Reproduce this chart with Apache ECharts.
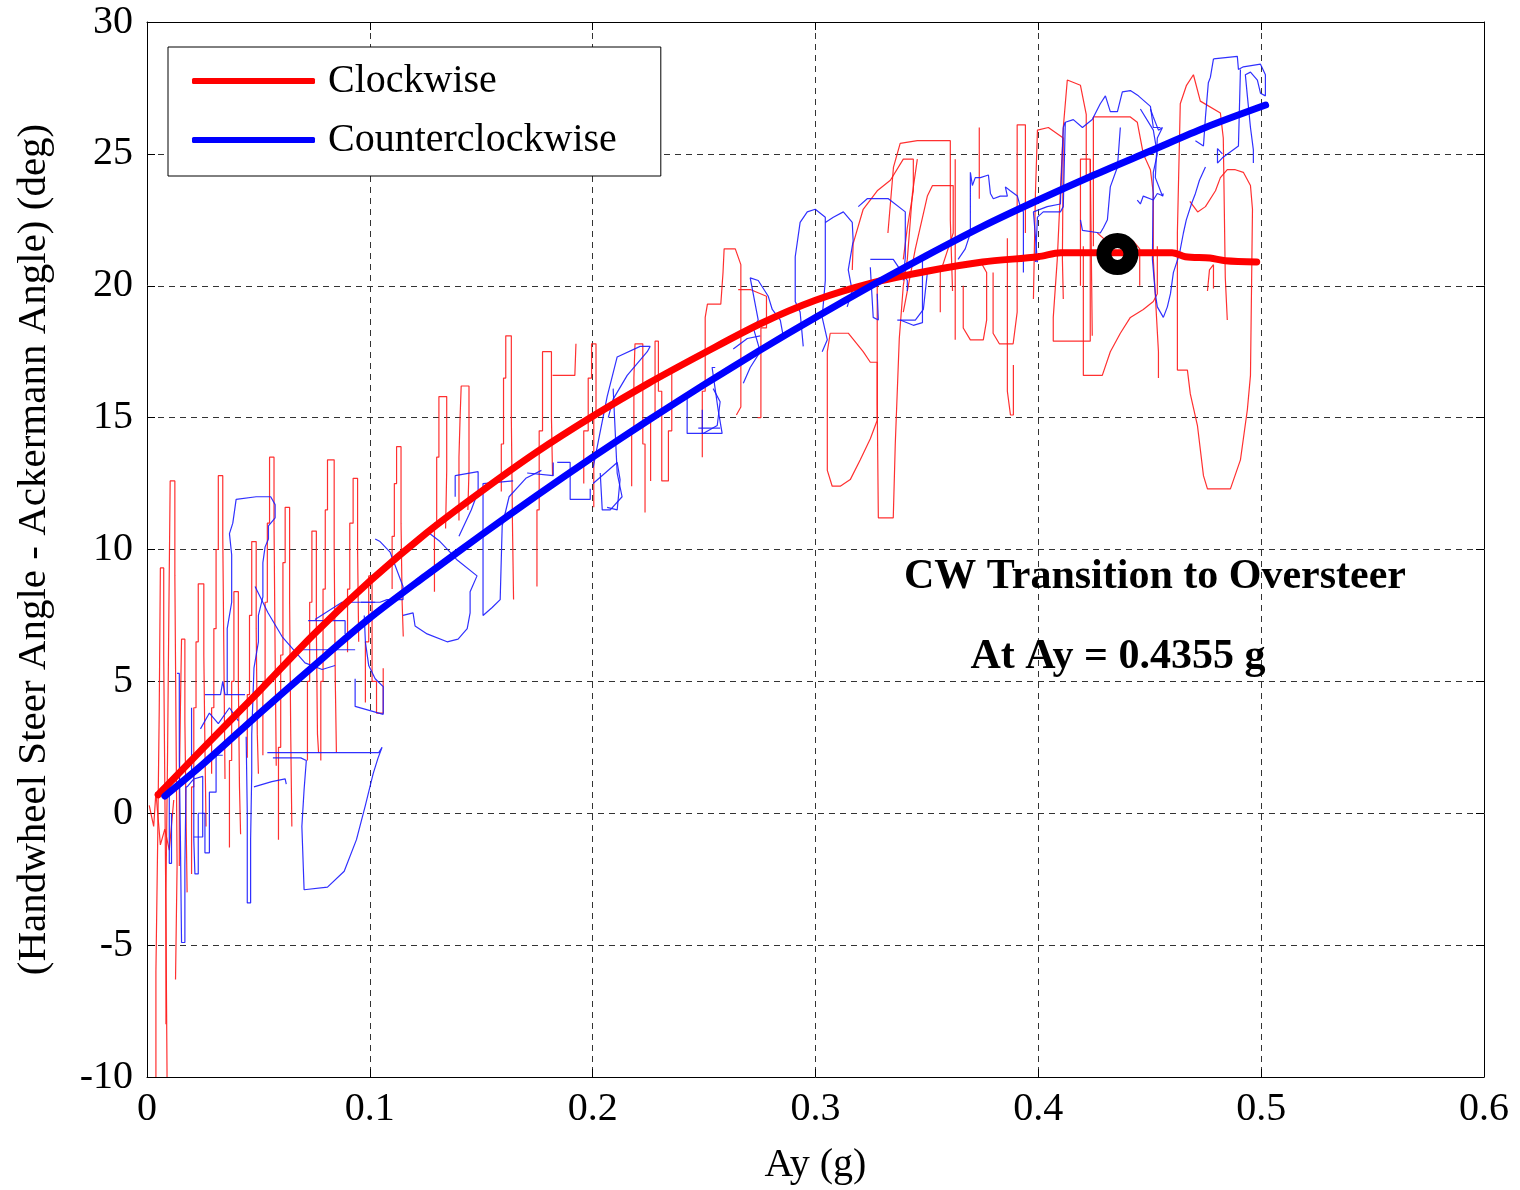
<!DOCTYPE html>
<html>
<head>
<meta charset="utf-8">
<script src="https://cdn.jsdelivr.net/npm/echarts@6/dist/echarts.min.js"></script>
<style>
html,body{margin:0;padding:0;background:#fff;}
#chart{width:1520px;height:1190px;}
</style>
</head>
<body>
<div id="chart"></div>
<script>
// ---------- DATA ----------
const xTicks = [0, 0.1, 0.2, 0.3, 0.4, 0.5, 0.6];
const yTicks = [-10, -5, 0, 5, 10, 15, 20, 25, 30];
const seriesNames = ['Clockwise', 'Counterclockwise'];

// fitted curves [Ay, angle]
const cwFit = [[0.005,0.7],[0.025,2.45],[0.05,4.6],[0.075,6.8],[0.1,8.8],[0.125,10.6],[0.15,12.2],[0.175,13.7],[0.2,15.05],[0.225,16.3],[0.25,17.45],[0.275,18.55],[0.3,19.45],[0.325,20.1],[0.35,20.55],[0.375,20.9],[0.4,21.1],[0.41,21.25],[0.46,21.25],[0.466,21.1],[0.477,21.05],[0.484,20.95],[0.498,20.9]];
const ccwFit = [[0.008,0.65],[0.025,1.85],[0.05,3.75],[0.075,5.6],[0.1,7.4],[0.125,9.0],[0.15,10.55],[0.175,12.05],[0.2,13.5],[0.225,14.9],[0.25,16.25],[0.275,17.55],[0.3,18.8],[0.325,20.0],[0.35,21.15],[0.375,22.25],[0.4,23.25],[0.425,24.2],[0.45,25.1],[0.475,26.0],[0.502,26.85]];

// transition point
const transition = [[0.4355, 21.2]];
const noteLines = ['CW Transition to Oversteer', 'At Ay = 0.4355 g'];

const cwRaw = [
 [[0.004,-10],[0.004,-6],[0.0048,-6],[0.0048,-1],[0.0055,-1],[0.0055,4],[0.006,4],[0.006,9.3],[0.0075,9.3],[0.0075,6],[0.008,6],[0.008,1],[0.0085,1],[0.0085,-4],[0.009,-4],[0.009,-10]],
 [[0.0085,-8],[0.0085,-3],[0.0092,-3],[0.0092,2],[0.0098,2],[0.0098,7.5],[0.0104,7.5],[0.0104,12.6],[0.0125,12.6],[0.0125,9],[0.013,9],[0.013,3.5],[0.0135,3.5],[0.0135,-2],[0.0128,-2],[0.0128,-6.3]],
 [[0.001,0.3],[0.003,-0.5],[0.004,0.8],[0.006,-1.2],[0.008,-0.6],[0.010,-1.4],[0.012,0.5]],
 [[0.0145,-2],[0.0145,1],[0.015,1],[0.015,4],[0.0155,4],[0.0155,6.6],[0.017,6.6],[0.017,3.5],[0.0175,3.5],[0.0175,0],[0.018,0],[0.018,-3]],
 [[0.020,-2.3],[0.020,1],[0.021,1],[0.021,4],[0.022,4],[0.022,6.5],[0.023,6.5],[0.023,8.7],[0.0255,8.7],[0.0255,6],[0.026,6],[0.026,2.5],[0.0265,2.5],[0.0265,-0.5]],
 [[0.029,1.5],[0.029,4],[0.030,4],[0.030,7],[0.031,7],[0.031,10],[0.032,10],[0.032,12.8],[0.034,12.8],[0.034,10.5],[0.0345,10.5],[0.0345,6],[0.035,6],[0.035,1.3]],
 [[0.037,-1.3],[0.037,2],[0.038,2],[0.038,5],[0.039,5],[0.039,8.4],[0.041,8.4],[0.041,5],[0.0415,5],[0.0415,1],[0.042,1],[0.042,-0.8]],
 [[0.045,2.1],[0.045,4.5],[0.046,4.5],[0.046,7.5],[0.047,7.5],[0.047,10.3],[0.049,10.3],[0.049,7],[0.0495,7],[0.0495,3],[0.050,3],[0.050,1.5]],
 [[0.052,2.2],[0.052,5],[0.053,5],[0.053,8],[0.054,8],[0.054,11],[0.055,11],[0.055,13.5],[0.057,13.5],[0.057,11],[0.0575,11],[0.0575,6],[0.058,6],[0.058,1.8]],
 [[0.059,-1],[0.059,2.5],[0.060,2.5],[0.060,6],[0.061,6],[0.061,9.5],[0.062,9.5],[0.062,11.6],[0.064,11.6],[0.064,8],[0.0645,8],[0.0645,3],[0.065,3],[0.065,-0.5]],
 [[0.072,2.0],[0.072,5],[0.073,5],[0.073,8],[0.074,8],[0.074,10.7],[0.076,10.7],[0.076,7],[0.0765,7],[0.0765,3],[0.077,3],[0.077,2.3]],
 [[0.078,2.0],[0.078,5],[0.079,5],[0.079,8.5],[0.080,8.5],[0.080,11.5],[0.081,11.5],[0.081,13.4],[0.084,13.4],[0.084,10],[0.0845,10],[0.0845,5],[0.085,5],[0.085,2.3]],
 [[0.090,6.1],[0.090,8.5],[0.091,8.5],[0.091,11],[0.0925,11],[0.0925,12.7],[0.0945,12.7],[0.0945,10],[0.095,10],[0.095,6.5]],
 [[0.098,4.2],[0.098,6.5],[0.0995,6.5],[0.0995,9],[0.101,9],[0.101,5],[0.103,5],[0.103,3.8],[0.106,3.8],[0.106,5.5]],
 [[0.110,8.5],[0.110,10.5],[0.111,10.5],[0.111,12.5],[0.112,12.5],[0.112,13.9],[0.114,13.9],[0.114,11],[0.1145,11],[0.1145,8],[0.115,8],[0.115,6.7]],
 [[0.129,8.4],[0.129,11],[0.130,11],[0.130,13.5],[0.131,13.5],[0.131,15.8],[0.1345,15.8],[0.1345,13],[0.134,13],[0.134,10.8]],
 [[0.140,11.1],[0.140,13.5],[0.1405,13.5],[0.1405,15],[0.141,15],[0.141,16.2],[0.1445,16.2],[0.1445,13],[0.144,13],[0.144,11.5]],
 [[0.159,12.2],[0.159,14],[0.160,14],[0.160,16.5],[0.161,16.5],[0.161,18.1],[0.1635,18.1],[0.1635,15],[0.164,15],[0.164,11],[0.1645,11],[0.1645,8.1]],
 [[0.175,8.6],[0.175,11.5],[0.176,11.5],[0.176,14.5],[0.1775,14.5],[0.1775,17.5],[0.1815,17.5],[0.1815,15],[0.182,15],[0.182,12.8]],
 [[0.182,16.6],[0.192,16.6],[0.1925,17.8]],
 [[0.196,12.5],[0.196,14.5],[0.198,14.5],[0.198,16.5],[0.1995,16.5],[0.1995,17.8],[0.2015,17.8],[0.2015,15],[0.2005,15],[0.2005,11.6]],
 [[0.2175,12.4],[0.2175,14.5],[0.2185,14.5],[0.2185,16.5],[0.219,16.5],[0.219,17.8],[0.2225,17.8],[0.2225,14],[0.2235,14],[0.2235,11.4]],
 [[0.226,12.6],[0.226,15],[0.228,15],[0.228,17.9],[0.2295,17.9],[0.2295,16],[0.231,16],[0.231,12.6],[0.234,12.6],[0.234,14.5],[0.2355,14.5],[0.2355,16.9]],
 [[0.2492,13.5],[0.2492,16],[0.2505,16],[0.2505,18.8],[0.2515,19.3],[0.2575,19.3],[0.2585,20.5],[0.259,21.4],[0.264,21.4],[0.2665,20.8],[0.2665,15.4],[0.2645,15.1]],
 [[0.2653,19.85],[0.271,19.85],[0.278,19.6],[0.278,18.4],[0.2755,18.4],[0.2755,15.0],[0.274,15.0]],
 [[0.3066,18.2],[0.3053,17.5],[0.3053,13.0],[0.3075,12.4],[0.3111,12.4],[0.3156,12.65],[0.3201,13.4],[0.3246,14.2],[0.3277,14.9],[0.3277,17.1],[0.3246,17.1],[0.3214,17.5],[0.3147,18.2],[0.3066,18.2]],
 [[0.3277,20.0],[0.3277,15.5],[0.3282,11.2],[0.3349,11.2],[0.3358,14],[0.3376,18],[0.3394,20],[0.3412,21.0],[0.3435,23.5],[0.3457,24.8]],
 [[0.3394,19.0],[0.3448,21.4],[0.3502,23.4],[0.3525,23.8],[0.3618,23.8],[0.3618,22],[0.356,20.5],[0.356,19.0]],
 [[0.3165,20.6],[0.3169,21.6],[0.3214,22.9],[0.3277,23.6],[0.3336,24.0],[0.3394,24.8],[0.3439,24.8],[0.3439,23.6],[0.3412,22.2],[0.3394,21.0]],
 [[0.3325,22],[0.335,24.5],[0.338,25.4],[0.3457,25.5],[0.3605,25.5],[0.3605,22.5],[0.3615,19.8]],
 [[0.3627,24.8],[0.3627,17.95]],
 [[0.3663,20.0],[0.3663,18.4],[0.3695,17.95],[0.3753,17.95],[0.3768,18.7],[0.3768,20.5],[0.3735,21.0]],
 [[0.3735,26.0],[0.3735,23.3]],
 [[0.3797,20.5],[0.3797,18.2],[0.3825,17.8],[0.3887,17.8],[0.3905,19],[0.3905,21.5],[0.3905,26.1],[0.3942,26.1],[0.3942,22]],
 [[0.3861,21.8],[0.3861,16],[0.3875,15.1],[0.3888,15.1],[0.3888,17.0]],
 [[0.3978,19.5],[0.3987,23.5],[0.3996,25.9],[0.4045,26.0],[0.4112,25.6],[0.4108,21.0],[0.4112,19.5]],
 [[0.4233,24.8],[0.4233,17.9],[0.4067,17.9],[0.4067,18.8],[0.4085,21.0],[0.4112,26.0],[0.413,27.8],[0.4189,27.6],[0.4215,26.5],[0.4215,24]],
 [[0.4189,20.0],[0.4189,24.8],[0.4233,24.8],[0.4242,18.1]],
 [[0.4202,21.5],[0.4202,16.6],[0.4287,16.6],[0.4323,17.5],[0.4368,18.2],[0.4413,18.8],[0.4471,19.1],[0.4516,19.4],[0.4534,19.7],[0.4534,21.5]],
 [[0.4247,21.5],[0.4247,26.4],[0.4413,26.4],[0.4444,26.2],[0.4471,25.0],[0.4503,24.4],[0.4516,23.5],[0.4516,21.0],[0.4539,17.5],[0.4539,16.5]],
 [[0.4265,22.0],[0.4305,21.7],[0.4425,21.7],[0.4455,21.4],[0.4455,20]],
 [[0.4624,16.8],[0.4624,22],[0.4637,26.9],[0.4665,27.6],[0.4696,28.0],[0.4727,27.0],[0.4817,26.55],[0.483,25.6],[0.4839,20.3],[0.4848,18.7]],
 [[0.4624,16.8],[0.4669,16.8],[0.4682,15.9],[0.4714,14.7],[0.4741,12.8],[0.4759,12.3],[0.4862,12.3],[0.4907,13.4],[0.4938,15.3],[0.4952,16.6],[0.4961,22.9],[0.4952,23.8],[0.492,24.3],[0.4884,24.4],[0.4848,24.4],[0.4817,24.1],[0.4795,23.6],[0.475,23.0],[0.4715,22.8],[0.468,23.2]],
 [[0.4759,19.8],[0.4768,20.6],[0.4786,20.8],[0.4786,19.9]]
];

const ccwRaw = [
 [[0.0135,5.3],[0.0145,5.3],[0.0145,2],[0.015,2],[0.015,-1],[0.0155,-1],[0.0155,-4.9],[0.017,-4.9],[0.017,-2],[0.0175,-2],[0.0175,1],[0.018,1]],
 [[0.020,4.0],[0.020,1.5],[0.021,1.5],[0.021,-1],[0.0215,-1],[0.0215,-2.3],[0.023,-2.3],[0.023,0],[0.026,0],[0.026,-1.5],[0.028,-1.5],[0.028,0.8],[0.031,0.8],[0.031,2.2],[0.034,2.2]],
 [[0.010,1.3],[0.010,-1.9],[0.011,-1.9],[0.011,0]],
 [[0.018,1.0],[0.021,1.3],[0.025,1.4],[0.025,-0.9],[0.021,-0.9]],
 [[0.026,4.5],[0.033,4.5],[0.034,5],[0.035,4.5],[0.044,4.5]],
 [[0.024,3.2],[0.028,3.8],[0.032,3.4],[0.037,4.0],[0.041,3.5]],
 [[0.036,4.5],[0.036,7],[0.038,8],[0.038,9.8],[0.037,10.6],[0.0385,11.0],[0.0395,11.6],[0.040,11.9],[0.049,12.0],[0.0555,12.0],[0.0575,11.7],[0.0575,11.2],[0.0545,10.9],[0.0545,10.4],[0.053,10.1],[0.052,9.5],[0.052,8.2],[0.050,7.5],[0.050,6.5],[0.048,5.5],[0.047,3],[0.047,1.5],[0.0465,-1],[0.0465,-3.4],[0.045,-3.4],[0.045,0],[0.0445,2.9]],
 [[0.054,2.3],[0.104,2.3],[0.1055,2.5],[0.1037,2.1],[0.1015,1.5],[0.098,0.3],[0.094,-1.0],[0.0885,-2.2],[0.081,-2.8],[0.0705,-2.9],[0.0695,-0.5],[0.0705,0.9],[0.0715,2.0],[0.069,2.1],[0.0565,2.1]],
 [[0.048,1.0],[0.056,1.2],[0.062,1.3],[0.0625,1.1]],
 [[0.0485,8.6],[0.0543,7.6],[0.0606,6.7],[0.0709,5.7],[0.0786,5.45],[0.0844,5.6]],
 [[0.0664,6.2],[0.0934,6.2]],
 [[0.0723,7.3],[0.0889,7.3],[0.0889,6.8]],
 [[0.0934,5.1],[0.0934,4.05],[0.106,3.75],[0.106,4.8],[0.1024,5.1],[0.0995,5.6],[0.098,6.5],[0.0975,7.5]],
 [[0.1024,10.4],[0.1046,10.3],[0.1091,9.9],[0.1149,8.6],[0.1149,8.1],[0.1077,8.1],[0.1046,8.0],[0.096,8.0]],
 [[0.0754,7.35],[0.0875,8.0],[0.0934,8.0],[0.1024,8.0]],
 [[0.1149,7.5],[0.1194,7.6],[0.1203,7.1],[0.1257,6.8],[0.1347,6.5],[0.1396,6.6],[0.1437,7.0],[0.145,7.6],[0.145,8.4],[0.1481,9.0],[0.1392,9.6],[0.136,9.9],[0.1315,10.3],[0.127,10.6]],
 [[0.1383,12.0],[0.1383,12.8],[0.1486,12.95],[0.1486,12.2],[0.1455,11.5],[0.140,10.5]],
 [[0.1643,12.6],[0.1508,12.5],[0.1508,7.5],[0.1549,7.8],[0.1585,8.1],[0.1594,10.9],[0.1625,12.0],[0.170,12.7],[0.177,13.0]],
 [[0.1706,12.9],[0.1823,12.8],[0.1823,13.3]],
 [[0.1841,13.3],[0.1899,13.3],[0.1899,11.9],[0.1989,11.9],[0.1989,12.3]],
 [[0.2002,13.1],[0.2065,15.8],[0.211,17.3],[0.2213,17.7],[0.2258,17.7],[0.2245,17.5],[0.2155,16.6],[0.2092,15.7],[0.207,15.0]],
 [[0.2002,12.5],[0.211,13.3],[0.2123,12.65],[0.211,11.5],[0.2065,11.6]],
 [[0.2092,16.1],[0.211,12.9],[0.2132,12.0],[0.2079,11.5],[0.2043,11.5],[0.2034,12.9]],
 [[0.2424,15.8],[0.2424,14.4],[0.2496,14.4],[0.2559,14.7],[0.2572,15.6],[0.2541,16.1]],
 [[0.2474,14.6],[0.2572,14.6]],
 [[0.2631,17.6],[0.2694,18.0],[0.2752,18.1]],
 [[0.2492,15.3],[0.2492,14.4],[0.2581,14.4],[0.2563,15.3],[0.2536,16.9],[0.255,16.9]],
 [[0.2676,16.3],[0.2707,16.9],[0.2752,17.5],[0.2721,18.4],[0.2743,18.7],[0.2707,20.3],[0.2743,20.2],[0.2788,19.6],[0.2806,19.1],[0.2842,18.7],[0.2855,18.1],[0.281,17.8]],
 [[0.2945,17.7],[0.2931,19.0],[0.2909,19.4],[0.2909,21.1],[0.2931,22.4],[0.2963,22.8],[0.2999,22.9],[0.3044,22.6],[0.3044,20.2],[0.303,18.8],[0.3053,17.95],[0.303,17.5]],
 [[0.3044,22.4],[0.308,22.6],[0.3125,22.8],[0.3165,22.4],[0.3169,21.7],[0.3147,20.6],[0.3165,19.8],[0.3142,19.2]],
 [[0.3192,23.0],[0.3232,23.3],[0.3327,23.3],[0.3403,22.8],[0.3403,21.1],[0.3394,20.2]],
 [[0.3246,21.0],[0.3349,21.0],[0.3389,20.5],[0.3412,20.2],[0.3412,19.8]],
 [[0.3246,20.7],[0.3259,18.8],[0.3282,18.7],[0.3277,19.7]],
 [[0.3367,18.7],[0.3448,18.7],[0.3484,19.1],[0.3502,20.5]],
 [[0.338,18.7],[0.3439,18.5],[0.348,18.6],[0.348,21.0]],
 [[0.364,21.0],[0.3672,21.4],[0.3695,22.0],[0.3695,24.3],[0.3704,23.8],[0.3717,24.1],[0.374,24.1],[0.3776,24.2],[0.3785,23.5],[0.3798,23.3],[0.3829,23.4],[0.3861,23.4],[0.3852,23.75],[0.3874,23.6],[0.3906,23.4],[0.3919,23.0],[0.3933,22.8],[0.3933,20.5]],
 [[0.3978,21.1],[0.3996,20.9],[0.3978,22.8],[0.404,23.0],[0.4099,23.1],[0.4112,26.0]],
 [[0.4112,26.0],[0.4121,26.2],[0.4157,26.3],[0.4198,26.0],[0.4242,26.3],[0.4278,26.9],[0.4301,27.2],[0.4323,26.6],[0.4355,26.6],[0.4377,27.35],[0.4413,27.4],[0.4449,27.2],[0.4503,26.8],[0.4516,26.0],[0.4548,26.0]],
 [[0.4121,26.2],[0.4112,23.0],[0.4099,22.8],[0.4022,22.8],[0.3996,22.6],[0.3987,20.9]],
 [[0.4189,22.5],[0.4198,22.1],[0.4278,22.0],[0.4292,22.2],[0.431,22.5],[0.4323,23.75],[0.4355,24.5],[0.4368,26.0]],
 [[0.4444,23.25],[0.4458,23.1],[0.4471,23.4],[0.4516,23.25],[0.4534,23.5],[0.4561,23.4]],
 [[0.4458,26.7],[0.4516,25.9],[0.4534,25.0],[0.4516,24.3],[0.4512,21.0],[0.4525,19.7],[0.4534,19.2],[0.4561,18.8],[0.4579,19.2],[0.4593,19.7],[0.4606,20.5],[0.4633,21.2],[0.4651,22.0],[0.4664,22.5],[0.4687,23.1],[0.4705,23.5],[0.4723,24.0],[0.475,24.5]],
 [[0.4786,28.6],[0.4893,28.7],[0.4898,28.2],[0.492,28.3],[0.4997,28.4],[0.5019,28.0],[0.5019,27.2],[0.4997,27.3],[0.4983,27.8],[0.4952,28.1],[0.4929,28.0],[0.4938,27.2],[0.4952,26.0],[0.4965,25.15],[0.4965,24.65]],
 [[0.4786,28.6],[0.4772,27.9],[0.4763,27.7],[0.475,26.4],[0.4741,25.3],[0.4705,25.5]],
 [[0.4907,28.2],[0.4898,25.3],[0.4826,24.85],[0.4804,24.65],[0.4804,25.2],[0.4826,25.0]],
 [[0.4503,26.7],[0.4516,26.4],[0.4539,25.9],[0.4557,26.0],[0.4534,25.6],[0.4525,24.1],[0.4557,23.4],[0.4561,23.5]]
];

// ---------- CHART ----------
const FONT = '"Liberation Serif","Times New Roman",serif';
const RED = '#ff0000', BLUE = '#0000ff';
const chart = echarts.init(document.getElementById('chart'), null, {renderer: 'canvas'});

const rawSeries = [];
cwRaw.forEach(seg => rawSeries.push({
  type: 'line', data: seg, showSymbol: false, silent: true, z: 1,
  color: RED, lineStyle: {color: '#ff1a1a', width: 1.2, opacity: 0.9}
}));
ccwRaw.forEach(seg => rawSeries.push({
  type: 'line', data: seg, showSymbol: false, silent: true, z: 1,
  color: BLUE, lineStyle: {color: '#1a1aff', width: 1.2, opacity: 0.9}
}));

const axisCommon = {
  axisLine: {show: true, onZero: false, lineStyle: {color: '#000', width: 1}},
  axisTick: {show: true, inside: true, length: 8, lineStyle: {color: '#000'}},
  splitLine: {show: false}
};

const option = {
  animation: false,
  backgroundColor: '#fff',
  textStyle: {fontFamily: FONT},
  grid: {left: 147, right: 36, top: 22, bottom: 112, containLabel: false},
  legend: {
    data: seriesNames,
    orient: 'vertical',
    left: 168, top: 47,
    padding: [14, 44, 16, 24],
    itemGap: 19,
    itemWidth: 123, itemHeight: 6,
    icon: 'roundRect',
    backgroundColor: '#fff',
    borderColor: '#000', borderWidth: 1,
    borderRadius: 0,
    selectedMode: false,
    textStyle: {fontFamily: FONT, fontSize: 40, color: '#000', lineHeight: 40, padding: [0, 0, 0, 8]}
  },
  xAxis: [
    Object.assign({}, axisCommon, {
      type: 'value', min: xTicks[0], max: xTicks[xTicks.length - 1], interval: 0.1,
      position: 'bottom',
      name: 'Ay (g)', nameLocation: 'middle', nameGap: 68,
      nameTextStyle: {fontFamily: FONT, fontSize: 40, color: '#000'},
      axisLabel: {fontFamily: FONT, fontSize: 40, color: '#000', margin: 12},
      splitLine: {show: true, lineStyle: {color: '#333', type: [6, 5], width: 1}}
    }),
    Object.assign({}, axisCommon, {
      type: 'value', min: xTicks[0], max: xTicks[xTicks.length - 1], interval: 0.1,
      position: 'top', axisLabel: {show: false}
    })
  ],
  yAxis: [
    Object.assign({}, axisCommon, {
      type: 'value', min: yTicks[0], max: yTicks[yTicks.length - 1], interval: 5,
      position: 'left',
      name: '(Handwheel Steer Angle - Ackermann Angle) (deg)',
      nameLocation: 'middle', nameGap: 92, nameRotate: 90,
      nameTextStyle: {fontFamily: FONT, fontSize: 41, color: '#000'},
      axisLabel: {fontFamily: FONT, fontSize: 40, color: '#000', margin: 14},
      splitLine: {show: true, lineStyle: {color: '#333', type: [6, 5], width: 1}}
    }),
    Object.assign({}, axisCommon, {
      type: 'value', min: yTicks[0], max: yTicks[yTicks.length - 1], interval: 5,
      position: 'right', axisLabel: {show: false}
    })
  ],
  graphic: [
    {type: 'text', x: 1155, y: 577, z: 10,
     style: {text: noteLines[0], fontFamily: FONT, fontSize: 42, fontWeight: 'bold', fill: '#000', textAlign: 'center', textVerticalAlign: 'middle'}},
    {type: 'text', x: 1118, y: 657, z: 10,
     style: {text: noteLines[1], fontFamily: FONT, fontSize: 42, fontWeight: 'bold', fill: '#000', textAlign: 'center', textVerticalAlign: 'middle'}}
  ],
  series: rawSeries.concat([
    {name: seriesNames[0], type: 'line', data: cwFit, showSymbol: false, smooth: 0.3,
     color: RED, z: 3, lineStyle: {color: RED, width: 7, cap: 'round', join: 'round'}},
    {name: seriesNames[1], type: 'line', data: ccwFit, showSymbol: false, smooth: 0.3,
     color: BLUE, z: 4, lineStyle: {color: BLUE, width: 7, cap: 'round', join: 'round'}},
    {type: 'scatter', data: transition, symbol: 'circle', symbolSize: 27, z: 6, silent: true,
     itemStyle: {color: 'rgba(0,0,0,0)', borderColor: '#000', borderWidth: 15, opacity: 1}}
  ])
};
chart.setOption(option);
</script>
</body>
</html>
